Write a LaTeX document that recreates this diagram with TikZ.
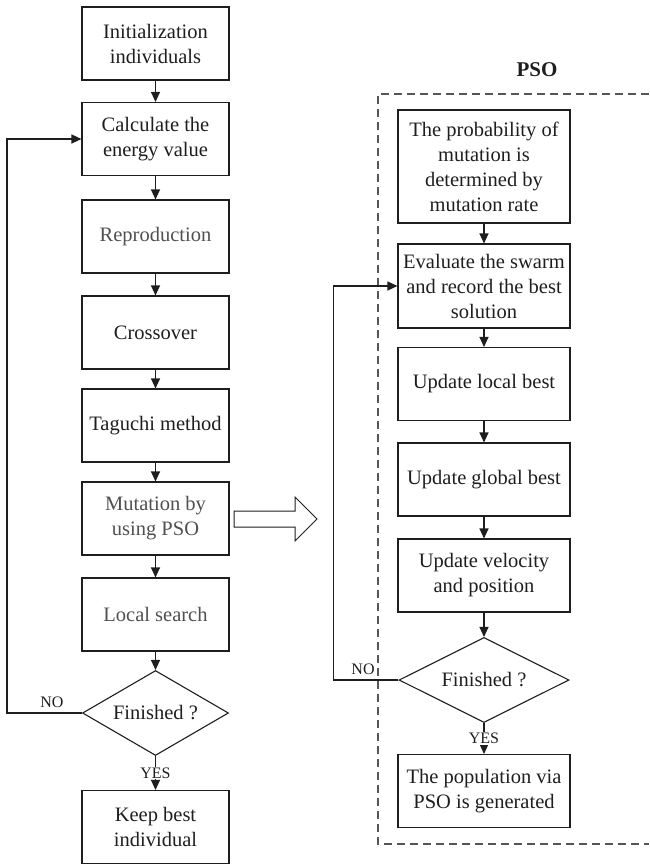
\documentclass[tikz,border=0pt]{standalone}
\usepackage{fontspec}
\setmainfont{Liberation Serif}
\usetikzlibrary{arrows.meta,shapes.geometric}
\definecolor{ink}{HTML}{1E1E1E}
\definecolor{softink}{HTML}{505050}
\definecolor{dashgray}{HTML}{555555}
\begin{document}
\begin{tikzpicture}[x=1pt,y=-1pt,
  stepbox/.style={draw=ink, line width=1.1pt, minimum width=147pt, minimum height=73pt,
    inner xsep=2pt, inner ysep=2pt, align=center, text=ink,
    font=\fontsize{20.5}{25}\selectfont},
  pbox/.style={stepbox, minimum width=172pt},
  soft/.style={text=softink},
  decision/.style={draw=ink, line width=1.1pt, shape=diamond, inner sep=0pt,
    minimum width=146pt, minimum height=85pt, text=ink,
    font=\fontsize{20.5}{25}\selectfont},
  arr/.style={draw=ink, line width=1.1pt, -{Triangle[length=10pt,width=9pt]}},
  tag/.style={font=\fontsize{16}{18}\selectfont, text=ink, inner sep=1pt},
  frame/.style={draw=dashgray, line width=1.2pt, dash pattern=on 8pt off 5pt},
  hollow/.style={draw=ink, line width=1pt, fill=white}
]
\useasboundingbox (0,0) rectangle (649,864);

% main loop
\node[stepbox] (b1) at (155.5,43.5) {Initialization\\individuals};
\node[stepbox] (b2) at (155.5,139) {Calculate the\\energy value};
\node[stepbox,soft] (b3) at (155.5,236.5) {Reproduction};
\node[stepbox] (b4) at (155.5,332.5) {Crossover};
\node[stepbox] (b5) at (155.5,425.5) {Taguchi method};
\node[stepbox,soft] (b6) at (155.5,518.5) {Mutation by\\using PSO};
\node[stepbox,soft] (b7) at (155.5,614.5) {Local search};
\node[decision] (d) at (155.5,713) {\makebox[0pt]{Finished ?}};
\node[stepbox] (b8) at (155.5,827) {Keep best\\individual};

\draw[arr] (b1) -- (b2);
\draw[arr] (b2) -- (b3);
\draw[arr] (b3) -- (b4);
\draw[arr] (b4) -- (b5);
\draw[arr] (b5) -- (b6);
\draw[arr] (b6) -- (b7);
\draw[arr] (b7) -- (d);
\draw[arr] (d.south) -- node[tag, fill=white] {YES} (b8.north);
\draw[arr] (d.west) -- ++(-75,0) |- (b2.west);
\node[tag] (no1) at (52,702) {NO};

% hand-over arrow to the PSO block
\draw[hollow] (234,511) -- (295,511) -- (295,497) -- (317,519) -- (295,541)
  -- (295,527) -- (234,527) -- cycle;

% PSO block
\node[font=\fontsize{21}{24}\selectfont\bfseries, text=ink] (psot) at (537,70) {PSO};
\draw[frame] (649,94) -- (378,94) -- (378,844) -- (649,844);

\node[pbox, minimum height=113pt] (r1) at (484,166.5)
  {The probability of\\mutation is\\determined by\\mutation rate};
\node[pbox, minimum height=84pt] (r2) at (484,286)
  {Evaluate the swarm\\and record the best\\solution};
\node[pbox] (r3) at (484,384) {Update local best};
\node[pbox] (r4) at (484,479.5) {Update global best};
\node[pbox] (r5) at (484,575.5) {Update velocity\\and position};
\node[decision, minimum width=170pt] (rd) at (484,680) {\makebox[0pt]{Finished ?}};
\node[pbox] (r6) at (484,791) {The population via\\PSO is generated};

\draw[arr] (r1) -- (r2);
\draw[arr] (r2) -- (r3);
\draw[arr] (r3) -- (r4);
\draw[arr] (r4) -- (r5);
\draw[arr] (r5) -- (rd);
\draw[arr] (rd.south) -- node[tag, fill=white] {YES} (r6.north);
\draw[arr] (rd.west) -- ++(-65,0) |- (r2.west);
\node[tag] (no2) at (363,669) {NO};
\end{tikzpicture}
\end{document}
